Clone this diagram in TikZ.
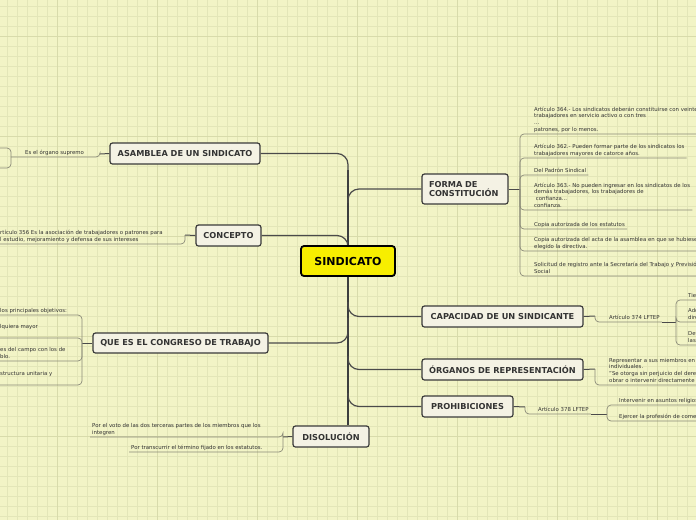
\documentclass[tikz,border=0pt]{standalone}
\usepackage{fontspec}
\setmainfont{DejaVu Sans}
\definecolor{bg}{HTML}{F2F4C6}
\definecolor{gridminor}{HTML}{E3E6B8}
\definecolor{gridmajor}{HTML}{D8DBAB}
\definecolor{boxfill}{HTML}{F4F2E4}
\definecolor{boxdraw}{HTML}{3A3A3A}
\definecolor{trunkc}{HTML}{3C3E3E}
\definecolor{branchc}{HTML}{4A4A4A}
\definecolor{leafc}{HTML}{8A8A78}
\definecolor{txt}{HTML}{333333}
\definecolor{yel}{HTML}{F7EE00}
\tikzset{
  topicbox/.style={draw=boxdraw,line width=1.2pt,fill=boxfill,rounded corners=2.5pt,
    font=\fontsize{8.2}{9.8}\selectfont\bfseries,text=txt,inner sep=0pt,align=center},
  rootbox/.style={draw=black,line width=1.8pt,fill=yel,rounded corners=3pt,
    font=\fontsize{11}{13}\selectfont\bfseries,text=black,inner sep=0pt},
  leafR/.style={font=\fontsize{5.4}{6.6}\selectfont,text=txt,align=left,inner xsep=2pt,
    inner ysep=1.5pt,text depth=1.3pt,anchor=south west},
  trunkline/.style={draw=trunkc,line width=2.4pt},
  branchline/.style={draw=branchc,line width=1.2pt,rounded corners=11pt},
  linkline/.style={draw=branchc,line width=1pt},
  leafline/.style={draw=leafc,line width=0.7pt,rounded corners=4pt},
}
\begin{document}
\begin{tikzpicture}[x=1pt,y=-1pt]
\useasboundingbox (0,0) rectangle (696,520);
\clip (0,0) rectangle (696,520);
\fill[bg] (0,0) rectangle (696,520);
\foreach \x in {7,17,...,697} \draw[gridminor,line width=0.5pt] (\x,0) -- (\x,520);
\foreach \y in {6,16,...,520} \draw[gridminor,line width=0.5pt] (0,\y) -- (696,\y);
\foreach \x in {57,157,...,697} \draw[gridmajor,line width=0.6pt] (\x,0) -- (\x,520);
\foreach \y in {36,136,...,520} \draw[gridmajor,line width=0.6pt] (0,\y) -- (696,\y);

% topics
\node[topicbox,minimum width=150pt,minimum height=21pt] (asm) at (185,153.5) {ASAMBLEA DE UN SINDICATO};
\node[topicbox,minimum width=65pt,minimum height=21pt] (conc) at (228.5,235.5) {CONCEPTO};
\node[topicbox,minimum width=175pt,minimum height=20pt] (cong) at (180.5,343) {QUE ES EL CONGRESO DE TRABAJO};
\node[topicbox,minimum width=76pt,minimum height=21pt] (disol) at (331,436.5) {DISOLUCIÓN};
\node[topicbox,minimum width=86pt,minimum height=30pt,text width=72pt,align=left] (forma) at (465,189) {FORMA DE\\CONSTITUCIÓN};
\node[topicbox,minimum width=161pt,minimum height=21pt] (cap) at (502.5,316.5) {CAPACIDAD DE UN SINDICANTE};
\node[topicbox,minimum width=161pt,minimum height=21pt] (org) at (502.5,369.5) {ÓRGANOS DE REPRESENTACIÓN};
\node[topicbox,minimum width=91pt,minimum height=21pt] (proh) at (467.5,406.5) {PROHIBICIONES};

% trunk and branches
\coordinate (ttop) at (348,170);
\coordinate (tasm) at (348,180);
\coordinate (tconc) at (348,250);
\coordinate (tcong) at (348,318);
\coordinate (tforma) at (348,203);
\coordinate (tcap) at (348,302);
\coordinate (torg) at (348,356);
\coordinate (tproh) at (348,393);
\draw[trunkline] (ttop) -- (disol.north -| ttop);
\draw[branchline] (tasm) |- (asm.east);
\draw[branchline] (tconc) |- (conc.east);
\draw[branchline] (tcong) |- (cong.east);
\draw[branchline] (tforma) |- (forma.west);
\draw[branchline] (tcap) |- (cap.west);
\draw[branchline] (torg) |- (org.west);
\draw[branchline] (tproh) |- (proh.west);
\node[rootbox,minimum width=94pt,minimum height=30pt] (sind) at (348,261) {SINDICATO};

% FORMA DE CONSTITUCION
\coordinate (jf) at (520,189);
\node[leafR] (f1) at (532,134) {Artículo 364.- Los sindicatos deberán constituirse con veinte\\trabajadores en servicio activo o con tres\\...\\patrones, por lo menos.};
\node[leafR] (f2) at (532,158) {Artículo 362.- Pueden formar parte de los sindicatos los\\trabajadores mayores de catorce años.};
\node[leafR] (f3) at (532,175) {Del Padrón Sindical};
\node[leafR] (f4) at (532,210) {Artículo 363.- No pueden ingresar en los sindicatos de los\\demás trabajadores, los trabajadores de\\\ confianza...\\confianza.};
\node[leafR] (f5) at (532,229) {Copia autorizada de los estatutos};
\node[leafR] (f6) at (532,251) {Copia autorizada del acta de la asamblea en que se hubiese\\elegido la directiva.};
\node[leafR] (f7) at (532,276) {Solicitud de registro ante la Secretaría del Trabajo y Previsión\\Social};
\draw[linkline] (forma.east) -- (jf);
\foreach \n in {f1,f2,f3,f4,f5,f6,f7} \draw[leafline] (jf) |- (\n.south west) -- (\n.south east);

% CAPACIDAD
\coordinate (jc) at (595,316);
\node[leafR] (a374) at (607,322) {Artículo 374 LFTEP};
\draw[linkline] (cap.east) -- (jc);
\draw[leafline] (jc) |- (a374.south west) -- (a374.south east);
\coordinate (jc2) at (676,322);
\draw[linkline] (a374.south east) -- (jc2);
\node[leafR] (ca1) at (686,300) {Tienen capacidad para:};
\node[leafR] (ca2) at (686,322) {Adquirir bienes\\directamente};
\node[leafR] (ca3) at (686,345) {Defender\\las acciones};
\foreach \n in {ca1,ca2,ca3} \draw[leafline] (jc2) |- (\n.south west) -- (\n.south east);

% ORGANOS
\coordinate (jo) at (595,369);
\node[leafR] (o1) at (607,385) {Representar a sus miembros en la defensa de los derechos\\individuales.\\"Se otorga sin perjuicio del derecho de los trabajadores para\\obrar o intervenir directamente};
\draw[linkline] (org.east) -- (jo);
\draw[leafline] (jo) |- (o1.south west) -- (o1.south east);

% PROHIBICIONES
\coordinate (jp) at (525,407);
\node[leafR] (a378) at (536,414) {Artículo 378 LFTEP};
\draw[linkline] (proh.east) -- (jp);
\draw[leafline] (jp) |- (a378.south west) -- (a378.south east);
\coordinate (jp2) at (607,414);
\draw[linkline] (a378.south east) -- (jp2);
\node[leafR] (p1) at (617,405) {Intervenir en asuntos religiosos.};
\node[leafR] (p2) at (617,421) {Ejercer la profesión de comerciantes con ánimo de lucro.};
\foreach \n in {p1,p2} \draw[leafline] (jp2) |- (\n.south west) -- (\n.south east);

% ASAMBLEA
\coordinate (ja) at (100,154);
\node[leafR] (a1) at (23,157) {Es el órgano supremo};
\draw[linkline] (asm.west) -- (ja);
\coordinate (jg) at (11,157);
\draw[leafline] (ja) |- (a1.south east) -- (a1.south west) -- (jg);
\coordinate (g1) at (-2,148);
\coordinate (g2) at (-2,168);
\draw[leafline] (jg) |- (g1);
\draw[leafline] (jg) |- (g2);

% CONCEPTO
\coordinate (jcn) at (185,235);
\node[leafR] (c1) at (-2,244) {\llap{A}rtículo 356 Es la asociación de trabajadores o patrones para\\\llap{e}l estudio, mejoramiento y defensa de sus intereses};
\draw[linkline] (conc.west) -- (jcn);
\draw[leafline] (jcn) |- (c1.south east) -- (c1.south west);

% CONGRESO
\coordinate (jk) at (82,343);
\node[leafR] (k1) at (-2,315) {los principales objetivos:};
\node[leafR] (k2) at (-2,338) {\llap{cua}lquiera mayor\\\mbox{}};
\node[leafR] (k3) at (-2,361) {\llap{trabajador}es del campo con los de\\\llap{pue}blo.};
\node[leafR] (k4) at (-2,385) {\llap{e}structura unitaria y\\\mbox{}};
\draw[linkline] (cong.west) -- (jk);
\foreach \n in {k1,k2,k3,k4} \draw[leafline] (jk) |- (\n.south east) -- (\n.south west);

% DISOLUCION
\coordinate (jd) at (283,437);
\node[leafR] (d1) at (90,437) {Por el voto de las dos terceras partes de los miembros que los\\integren};
\node[leafR] (d2) at (129,452) {Por transcurrir el término fijado en los estatutos.};
\draw[linkline] (disol.west) -- (jd);
\foreach \n in {d1,d2} \draw[leafline] (jd) |- (\n.south east) -- (\n.south west);
\end{tikzpicture}
\end{document}
